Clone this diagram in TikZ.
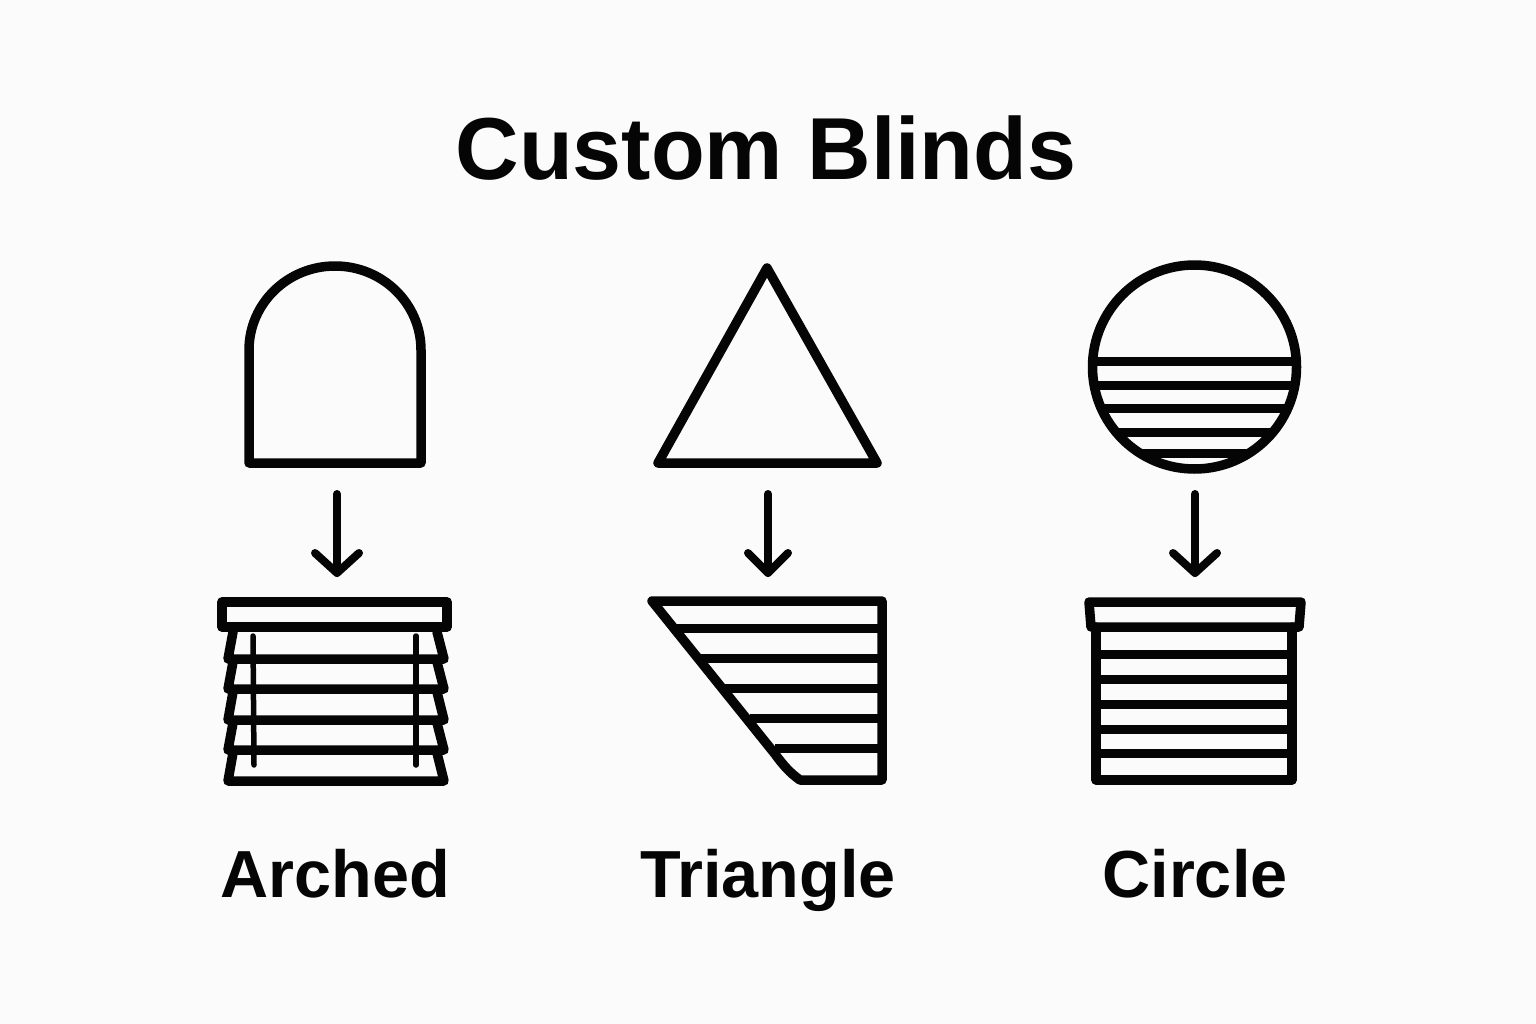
\documentclass[tikz,border=0pt]{standalone}
\usepackage{fontspec}
\setmainfont{Liberation Sans}
\usetikzlibrary{arrows.meta}
\definecolor{bgc}{HTML}{FBFBFB}
\definecolor{ink}{HTML}{050505}
\tikzset{
  icon/.style={draw=ink,line width=9.5pt,line join=round,line cap=round},
  slat/.style={draw=ink,line width=9pt,line cap=butt},
  cord/.style={draw=ink,line width=5.5pt,line cap=round},
  flow/.style={draw=ink,line width=8pt,line cap=round,line join=round},
  titletext/.style={anchor=base,text=ink,font=\fontsize{88}{90}\selectfont\bfseries},
  labeltext/.style={anchor=base,text=ink,font=\fontsize{66.6}{70}\selectfont\bfseries},
}
\begin{document}
\begin{tikzpicture}[x=1pt,y=-1pt]
\fill[bgc] (0,0) rectangle (1536,1024);
\useasboundingbox (0,0) rectangle (1536,1024);
\node[titletext] (title) at (766,180) {Custom Blinds};

% --- Arched ---
\draw[icon] (249,463) -- (249,350) arc[start angle=180,end angle=360,x radius=86,y radius=84] -- (421,463) -- cycle;
\coordinate (a1) at (337,494); \coordinate (a2) at (337,573);
\draw[flow] (a1) -- (a2);
\draw[flow] (315,553) -- (a2) -- (359,553);
\draw[icon] (222,602) -- (447,602) -- (447,627) -- (222,627) -- cycle;
\foreach \t/\b in {632/659,662/689,692/720,723/750,753/781}{
  \draw[icon] (233,\t) -- (228,\b) -- (444,\b) -- (437,\t);
}
\draw[cord] (253,636) -- (254,765);
\draw[cord] (416,636) -- (416,765);

% --- Triangle ---
\draw[icon] (767,268) -- (877,463) -- (658,463) -- cycle;
\coordinate (b1) at (768,494); \coordinate (b2) at (768,573);
\draw[flow] (b1) -- (b2);
\draw[flow] (748,553) -- (b2) -- (788,553);
\draw[icon] (652,601) -- (882,601) -- (882,780) -- (800,780)
  .. controls (790,773) and (783,765) .. (775,754) -- cycle;
\foreach \y/\x in {628/673,658/699,688/725,718/750,748/775}{
  \draw[slat] (\x,\y) -- (882,\y);
}

% --- Circle ---
\coordinate (cc) at (1194.5,367);
\begin{scope}
  \clip (cc) circle[radius=102];
  \foreach \y in {361,385,408,432,453}{
    \draw[slat] (1080,\y) -- (1310,\y);
  }
\end{scope}
\draw[icon] (cc) circle[radius=102];
\coordinate (c1) at (1195,494); \coordinate (c2) at (1195,573);
\draw[flow] (c1) -- (c2);
\draw[flow] (1173,553) -- (c2) -- (1217,553);
\draw[icon] (1096,627) -- (1096,780) -- (1292,780) -- (1292,627);
\foreach \y in {654,679,704,729,753}{
  \draw[slat] (1096,\y) -- (1292,\y);
}
\draw[icon] (1089,602) -- (1301,602) -- (1299,627) -- (1091,627) -- cycle;

% --- Labels ---
\node[labeltext] (arched) at (335.5,897) {Arched};
\node[labeltext] (triangle) at (768,897) {Triangle};
\node[labeltext] (circle) at (1195,897) {Circle};
\end{tikzpicture}
\end{document}
